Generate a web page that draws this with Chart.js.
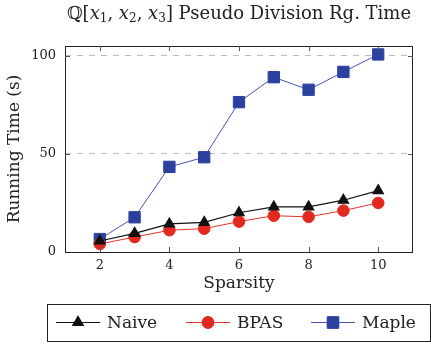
<!DOCTYPE html>
<html>
<head>
<meta charset="utf-8">
<script src="https://cdn.jsdelivr.net/npm/chart.js@4/dist/chart.umd.min.js"></script>
<style>
  html, body { margin: 0; padding: 0; background: #fff; }
  #wrap { width: 431px; height: 345px; }
</style>
</head>
<body>
<div id="wrap"><canvas id="timeChart" width="431" height="345"></canvas></div>
<script>
const sparsity = [2, 3, 4, 5, 6, 7, 8, 9, 10];
const naiveTimes = [5.6, 9.5, 14.3, 15.1, 20.0, 23.0, 23.0, 26.4, 31.3];
const bpasTimes = [4.1, 7.6, 11.1, 11.9, 15.5, 18.5, 17.9, 21.1, 25.0];
const mapleTimes = [6.6, 17.7, 43.4, 48.3, 76.4, 89.1, 82.7, 91.8, 100.7];
const xTickValues = [2, 4, 6, 8, 10];
const yTickValues = [0, 50, 100];
const seriesNames = ['Naive', 'BPAS', 'Maple'];

const serif = "'DejaVu Serif', 'Liberation Serif', serif";

document.addEventListener('DOMContentLoaded', () => {
    const ctx = document.getElementById('timeChart').getContext('2d');

    const toPoints = ys => sparsity.map((x, i) => ({ x: x, y: ys[i] }));

    // title, frame, inward ticks and the boxed legend are drawn by hand
    const decorations = {
        id: 'decorations',
        afterDraw(chart) {
            const c = chart.ctx;
            const area = chart.chartArea;
            const xs = chart.scales.x;
            const ys = chart.scales.y;
            c.save();

            // frame
            c.strokeStyle = '#222';
            c.lineWidth = 1;
            c.strokeRect(area.left + 0.5, area.top + 0.5, area.right - area.left - 1, area.bottom - area.top);

            // inward ticks
            c.strokeStyle = '#555';
            c.beginPath();
            xTickValues.forEach(v => {
                const px = Math.round(xs.getPixelForValue(v)) + 0.5;
                c.moveTo(px, area.top); c.lineTo(px, area.top + 5);
                c.moveTo(px, area.bottom); c.lineTo(px, area.bottom - 5);
            });
            yTickValues.forEach(v => {
                if (v === 0) return;
                const py = Math.round(ys.getPixelForValue(v)) + 0.5;
                c.moveTo(area.left, py); c.lineTo(area.left + 5, py);
                c.moveTo(area.right, py); c.lineTo(area.right - 5, py);
            });
            c.stroke();

            // title
            const cx = (area.left + area.right) / 2;
            const parts = [
                ['\u211A[', '18px ' + serif, 0],
                ['x', 'italic 18px ' + serif, 0],
                ['1', '12px ' + serif, 3],
                [', ', '18px ' + serif, 0],
                ['x', 'italic 18px ' + serif, 0],
                ['2', '12px ' + serif, 3],
                [', ', '18px ' + serif, 0],
                ['x', 'italic 18px ' + serif, 0],
                ['3', '12px ' + serif, 3],
                ['] Pseudo Division Rg. Time', '18px ' + serif, 0]
            ];
            let total = 0;
            parts.forEach(p => { c.font = p[1]; total += c.measureText(p[0]).width; });
            let tx = cx - total / 2;
            c.fillStyle = '#222';
            c.textBaseline = 'alphabetic';
            parts.forEach(p => {
                c.font = p[1];
                c.fillText(p[0], tx, 19 + p[2]);
                tx += c.measureText(p[0]).width;
            });

            // legend
            c.strokeStyle = '#222';
            c.strokeRect(47.5, 304.5, 383, 37);
            const itemX = [56, 186, 311];
            const ly = 322.5;
            c.font = '17px ' + serif;
            c.textBaseline = 'middle';
            chart.data.datasets.forEach((ds, i) => {
                const x0 = itemX[i];
                c.strokeStyle = ds.borderColor;
                c.lineWidth = ds.borderWidth;
                c.beginPath();
                c.moveTo(x0, ly); c.lineTo(x0 + 44, ly);
                c.stroke();
                Chart.helpers.drawPoint(c, {
                    pointStyle: ds.pointStyle,
                    radius: ds.pointRadius,
                    rotation: 0,
                    borderWidth: 1
                }, x0 + 22, ly);
                c.fillStyle = ds.pointBackgroundColor;
                c.strokeStyle = ds.pointBorderColor;
                c.lineWidth = 1;
                c.fill();
                c.stroke();
                c.fillStyle = '#222';
                c.fillText(ds.label, x0 + 51, ly + 1);
            });
            c.restore();
        }
    };

    new Chart(ctx, {
        type: 'line',
        data: {
            datasets: [{
                label: seriesNames[0],
                data: toPoints(naiveTimes),
                borderColor: '#111',
                borderWidth: 1.2,
                pointStyle: 'triangle',
                pointRadius: 6,
                pointBackgroundColor: '#111',
                pointBorderColor: '#111'
            }, {
                label: seriesNames[1],
                data: toPoints(bpasTimes),
                borderColor: '#e3342a',
                borderWidth: 1,
                pointStyle: 'circle',
                pointRadius: 5.8,
                pointBackgroundColor: '#e3291f',
                pointBorderColor: '#e3291f'
            }, {
                label: seriesNames[2],
                data: toPoints(mapleTimes),
                borderColor: '#4356b8',
                borderWidth: 1,
                pointStyle: 'rect',
                pointRadius: 8,
                pointBackgroundColor: '#2c40a0',
                pointBorderColor: '#2c40a0'
            }]
        },
        options: {
            responsive: false,
            animation: false,
            layout: {
                padding: { left: 0, right: 18, top: 46, bottom: 51 }
            },
            plugins: {
                legend: { display: false },
                title: { display: false },
                tooltip: { enabled: false }
            },
            scales: {
                x: {
                    type: 'linear',
                    min: 1,
                    max: 11,
                    afterBuildTicks: s => { s.ticks = xTickValues.map(v => ({ value: v })); },
                    afterFit: s => { s.height = 42; },
                    grid: { display: false, drawTicks: false },
                    border: { display: false },
                    ticks: {
                        padding: 6,
                        color: '#222',
                        font: { family: serif, size: 13 }
                    },
                    title: {
                        display: true,
                        text: 'Sparsity',
                        color: '#222',
                        padding: 0,
                        font: { family: serif, size: 17 }
                    }
                },
                y: {
                    min: 0,
                    max: 105,
                    afterBuildTicks: s => { s.ticks = yTickValues.map(v => ({ value: v })); },
                    afterFit: s => { s.width = 65; },
                    grid: {
                        drawTicks: false,
                        color: c => c.tick.value === 0 ? 'rgba(0,0,0,0)' : '#bdbdbd',
                        lineWidth: 1
                    },
                    border: { display: false, dash: [6, 6] },
                    ticks: {
                        padding: 9,
                        color: '#222',
                        font: { family: serif, size: 13 }
                    },
                    title: {
                        display: true,
                        text: 'Running Time (s)',
                        color: '#222',
                        padding: { top: 4, bottom: 0 },
                        font: { family: serif, size: 17 }
                    }
                }
            }
        },
        plugins: [decorations]
    });
});
</script>
</body>
</html>
